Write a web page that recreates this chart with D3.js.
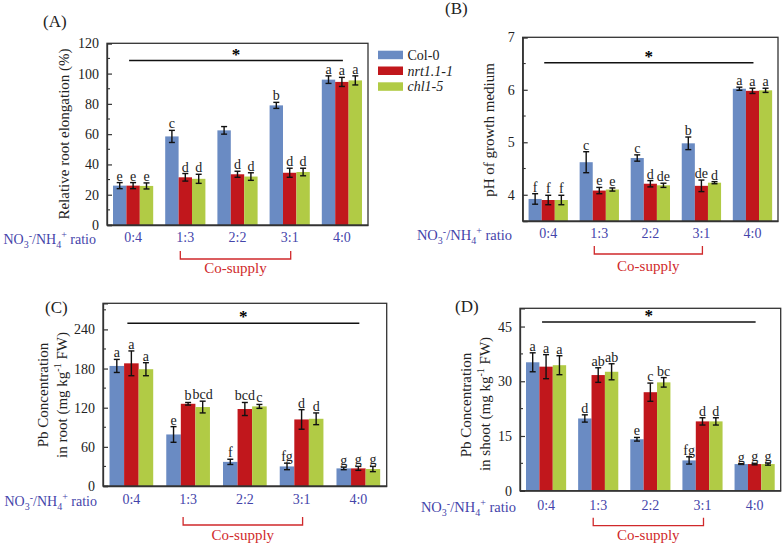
<!DOCTYPE html>
<html>
<head>
<meta charset="utf-8">
<script src="https://cdn.jsdelivr.net/npm/d3@7/dist/d3.min.js"></script>
<style>
html,body{margin:0;padding:0;background:#fff;}
svg{display:block;}
text{font-family:"Liberation Serif","Times New Roman",serif;}
</style>
</head>
<body>
<svg id="chart" width="783" height="547"></svg>
<script>
// ---------- DATA ----------
const categories = ["0:4", "1:3", "2:2", "3:1", "4:0"];
const seriesNames = ["Col-0", "nrt1.1-1", "chl1-5"];

// (A) Relative root elongation (%)
const rootElongCol0 = [26, 58.5, 62.5, 79, 96];
const rootElongNrt = [26, 31.5, 33.5, 34.5, 94.5];
const rootElongChl = [25.8, 30.5, 32, 35, 95.5];
const rootElongCol0Err = [2, 4, 2.5, 2, 2.5];
const rootElongNrtErr = [2, 2.5, 2, 3, 3];
const rootElongChlErr = [2, 3, 2.5, 2.5, 3];
const rootElongCol0Let = ["e", "c", "", "b", "a"];
const rootElongNrtLet = ["e", "d", "d", "d", "a"];
const rootElongChlLet = ["e", "d", "d", "d", "a"];
const rootElongTicks = [0, 20, 40, 60, 80, 100, 120];

// (B) pH of growth medium
const phCol0 = [3.92, 4.62, 4.70, 4.98, 6.02];
const phNrt = [3.90, 4.08, 4.21, 4.17, 5.98];
const phChl = [3.90, 4.10, 4.18, 4.23, 5.99];
const phCol0Err = [0.10, 0.20, 0.06, 0.12, 0.03];
const phNrtErr = [0.09, 0.06, 0.06, 0.11, 0.05];
const phChlErr = [0.09, 0.03, 0.04, 0.02, 0.04];
const phCol0Let = ["f", "c", "c", "b", "a"];
const phNrtLet = ["f", "e", "d", "de", "a"];
const phChlLet = ["f", "e", "de", "d", "a"];
const phTicks = [4, 5, 6, 7];

// (C) Pb concentration in root
const rootPbCol0 = [184, 79, 37, 30, 27];
const rootPbNrt = [188, 126, 118, 102, 27];
const rootPbChl = [179, 121, 122, 103, 26];
const rootPbCol0Err = [10, 12, 4, 5, 2];
const rootPbNrtErr = [19, 2, 10, 15, 3];
const rootPbChlErr = [10, 9, 3, 9, 4];
const rootPbCol0Let = ["a", "e", "f", "fg", "g"];
const rootPbNrtLet = ["a", "b", "bcd", "d", "g"];
const rootPbChlLet = ["a", "bcd", "c", "d", "g"];
const rootPbTicks = [0, 60, 120, 180, 240];

// (D) Pb concentration in shoot
const shootPbCol0 = [35.2, 19.8, 14.1, 8.3, 7.3];
const shootPbNrt = [34, 31.7, 27, 19, 7.3];
const shootPbChl = [34.4, 32.6, 29.7, 19, 7.3];
const shootPbCol0Err = [2.6, 1.0, 0.5, 1.0, 0.1];
const shootPbNrtErr = [3.3, 2.0, 2.5, 1.0, 0.2];
const shootPbChlErr = [2.6, 2.2, 1.3, 1.0, 0.3];
const shootPbCol0Let = ["a", "d", "e", "fg", "g"];
const shootPbNrtLet = ["a", "ab", "c", "d", "g"];
const shootPbChlLet = ["a", "ab", "bc", "d", "g"];
const shootPbTicks = [0, 15, 30, 45];

// ---------- STYLE ----------
const colors = ["#6a8bc3", "#c1171c", "#b1cb45"];
const catColor = "#4444aa";
const coColor = "#d0292b";
const axisColor = "#333";

const svg = d3.select("#chart");

function drawPanel(p) {
  const g = svg.append("g");
  const x = d3.scaleBand().domain(categories).range([p.x0, p.x1]).paddingInner(0.23).paddingOuter(0.115);
  const xs = d3.scaleBand().domain(seriesNames).range([0, x.bandwidth()]);
  const y = d3.scaleLinear().domain(p.domain).range([p.y1, p.y0]);

  // bars
  p.values.forEach((vals, s) => {
    g.selectAll(null).data(vals).enter().append("rect")
      .attr("x", (d, i) => x(categories[i]) + xs(seriesNames[s]))
      .attr("width", xs.bandwidth())
      .attr("y", d => y(d))
      .attr("height", d => y(p.domain[0]) - y(d))
      .attr("fill", colors[s]);
  });
  // error bars + letters
  p.values.forEach((vals, s) => {
    vals.forEach((v, i) => {
      const cx = x(categories[i]) + xs(seriesNames[s]) + xs.bandwidth() / 2;
      const e = p.errs[s][i];
      const yt = y(v + e), yb = y(v - e);
      g.append("line").attr("x1", cx).attr("x2", cx).attr("y1", yt).attr("y2", yb)
        .attr("stroke", "#111").attr("stroke-width", 1.4);
      [yt, yb].forEach(yy => g.append("line").attr("x1", cx - 3).attr("x2", cx + 3)
        .attr("y1", yy).attr("y2", yy).attr("stroke", "#111").attr("stroke-width", 1.4));
      const lt = p.letters[s][i];
      if (lt) {
        g.append("text").attr("x", cx).attr("y", yt - 2)
          .attr("text-anchor", "middle").attr("font-size", 14).attr("fill", "#222").text(lt);
      }
    });
  });

  // frame
  g.append("rect").attr("x", p.x0).attr("y", p.y0).attr("width", p.x1 - p.x0).attr("height", p.y1 - p.y0)
    .attr("fill", "none").attr("stroke", axisColor).attr("stroke-width", 1.3);

  // y axis (inward ticks)
  const yAxis = d3.axisLeft(y).tickValues(p.ticks).tickSize(-5).tickPadding(8).tickFormat(d3.format("d"));
  const ya = g.append("g").attr("transform", `translate(${p.x0},0)`).call(yAxis);
  ya.select(".domain").attr("stroke", axisColor).attr("stroke-width", 1.3);
  ya.selectAll(".tick line").attr("stroke", axisColor).attr("stroke-width", 1.2);
  ya.selectAll(".tick text").attr("font-size", 14).attr("fill", "#222")
    .attr("font-family", "Liberation Serif, serif");
  // minor ticks
  g.selectAll(null).data(p.minor).enter().append("line")
    .attr("x1", p.x0).attr("x2", p.x0 + 3).attr("y1", d => y(d)).attr("y2", d => y(d))
    .attr("stroke", axisColor).attr("stroke-width", 1.1);

  // x axis category labels
  const xa = d3.axisBottom(x).tickSize(0).tickPadding(p.catPad);
  const xg = g.append("g").attr("transform", `translate(0,${p.y1})`).call(xa);
  xg.select(".domain").attr("stroke", axisColor).attr("stroke-width", 1.3);
  xg.selectAll(".tick text").attr("font-size", 14).attr("fill", catColor)
    .attr("font-family", "Liberation Serif, serif");

  // ratio label
  const rl = g.append("text").attr("x", p.ratioX).attr("y", p.y1 + p.catPad + 12)
    .attr("text-anchor", "end").attr("font-size", p.ratioSize).attr("fill", catColor);
  rl.append("tspan").text("NO");
  rl.append("tspan").attr("font-size", 10).attr("dy", 4).text("3");
  rl.append("tspan").attr("font-size", 10).attr("dy", -9).text("-");
  rl.append("tspan").attr("dy", 5).text("/NH");
  rl.append("tspan").attr("font-size", 10).attr("dy", 4).text("4");
  rl.append("tspan").attr("font-size", 10).attr("dy", -10).text("+");
  rl.append("tspan").attr("dy", 6).text(" ratio");

  // co-supply bracket
  const bx0 = x("1:3") + x.bandwidth() / 2 - 5;
  const bx1 = x("3:1") + x.bandwidth() / 2 + 1;
  const bt = p.y1 + p.brTop, bb = p.y1 + p.brTop + 8;
  g.append("path").attr("d", `M${bx0},${bt}V${bb}H${bx1}V${bt}`)
    .attr("fill", "none").attr("stroke", coColor).attr("stroke-width", 1.3);
  g.append("text").attr("x", (bx0 + bx1) / 2).attr("y", p.y1 + p.coY).attr("text-anchor", "middle")
    .attr("font-size", 15).attr("fill", coColor).text("Co-supply");

  // significance line
  const sx0 = x("0:4") + x.bandwidth() / 2 - 4;
  const sx1 = x("4:0") + x.bandwidth() / 2 + 1;
  g.append("line").attr("x1", sx0).attr("x2", sx1).attr("y1", p.sigY).attr("y2", p.sigY)
    .attr("stroke", "#111").attr("stroke-width", 1.4);
  g.append("text").attr("x", (sx0 + sx1) / 2).attr("y", p.sigY - 1).attr("text-anchor", "middle")
    .attr("font-size", 17).attr("font-weight", "bold").attr("fill", "#000").text("*");

  // panel tag
  g.append("text").attr("x", p.tagX).attr("y", p.tagY).attr("font-size", 17).attr("fill", "#222").text(p.tag);

  // y label(s)
  p.ylabels.forEach(l => {
    const t = g.append("text").attr("transform", `translate(${l.x},${l.y}) rotate(-90)`)
      .attr("text-anchor", "middle").attr("font-size", 15).attr("fill", "#222");
    if (l.sup) {
      t.append("tspan").text(l.pre);
      t.append("tspan").attr("font-size", 10).attr("dy", -6).text(l.sup);
      t.append("tspan").attr("dy", 6).text(l.post);
    } else {
      t.text(l.text);
    }
  });
}

drawPanel({
  tag: "(A)", tagX: 43, tagY: 27,
  x0: 107, x1: 368, y0: 43.3, y1: 225, domain: [0, 120],
  ticks: rootElongTicks, minor: [10, 30, 50, 70, 90, 110],
  values: [rootElongCol0, rootElongNrt, rootElongChl],
  errs: [rootElongCol0Err, rootElongNrtErr, rootElongChlErr],
  letters: [rootElongCol0Let, rootElongNrtLet, rootElongChlLet],
  catPad: 7, ratioX: 96, ratioSize: 14, brTop: 26, coY: 48, sigY: 60.5,
  ylabels: [{ x: 69, y: 134, text: "Relative root elongation (%)" }]
});

drawPanel({
  tag: "(B)", tagX: 445, tagY: 14,
  x0: 522.7, x1: 778, y0: 37.3, y1: 221, domain: [3.5, 7],
  ticks: phTicks, minor: [4.5, 5.5, 6.5],
  values: [phCol0, phNrt, phChl],
  errs: [phCol0Err, phNrtErr, phChlErr],
  letters: [phCol0Let, phNrtLet, phChlLet],
  catPad: 7, ratioX: 512, ratioSize: 14.5, brTop: 25, coY: 50, sigY: 62.7,
  ylabels: [{ x: 494, y: 130, text: "pH of growth medium" }]
});

drawPanel({
  tag: "(C)", tagX: 45, tagY: 313,
  x0: 103, x1: 386.7, y0: 303.3, y1: 486, domain: [0, 280],
  ticks: rootPbTicks, minor: [30, 90, 150, 210, 270],
  values: [rootPbCol0, rootPbNrt, rootPbChl],
  errs: [rootPbCol0Err, rootPbNrtErr, rootPbChlErr],
  letters: [rootPbCol0Let, rootPbNrtLet, rootPbChlLet],
  catPad: 8, ratioX: 97, ratioSize: 14, brTop: 31, coY: 54, sigY: 323.3,
  ylabels: [
    { x: 48, y: 395, text: "Pb Concentration" },
    { x: 67, y: 395, sup: "-1", pre: "in root (mg kg", post: " FW)" }
  ]
});

drawPanel({
  tag: "(D)", tagX: 455, tagY: 312,
  x0: 520, x1: 780.7, y0: 308.3, y1: 490.7, domain: [0, 50],
  ticks: shootPbTicks, minor: [7.5, 22.5, 37.5],
  values: [shootPbCol0, shootPbNrt, shootPbChl],
  errs: [shootPbCol0Err, shootPbNrtErr, shootPbChlErr],
  letters: [shootPbCol0Let, shootPbNrtLet, shootPbChlLet],
  catPad: 9, ratioX: 516, ratioSize: 14.5, brTop: 27, coY: 49, sigY: 322,
  ylabels: [
    { x: 471, y: 405, text: "Pb Concentration" },
    { x: 490, y: 404, sup: "-1", pre: "in shoot (mg kg", post: " FW)" }
  ]
});

// legend
const legend = svg.append("g");
seriesNames.forEach((n, i) => {
  const yy = 50.7 + i * 15.8;
  legend.append("rect").attr("x", 378).attr("y", yy).attr("width", 25).attr("height", 8.5).attr("fill", colors[i]);
  legend.append("text").attr("x", 407.5).attr("y", yy + 9).attr("font-size", 14).attr("fill", "#222")
    .attr("font-style", i === 0 ? "normal" : "italic").text(n);
});
</script>
</body>
</html>
